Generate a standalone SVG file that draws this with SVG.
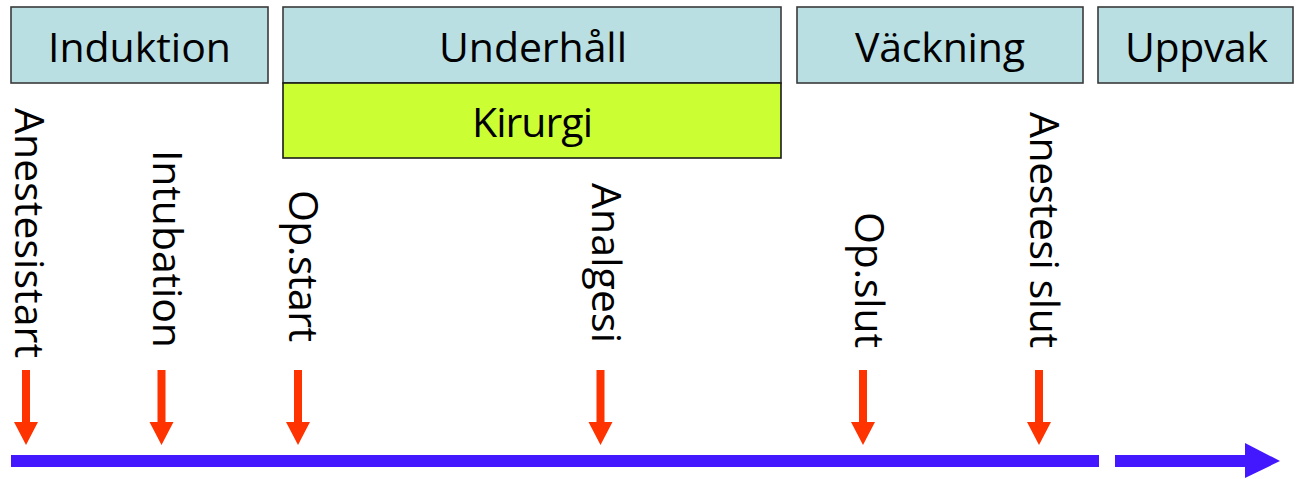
<svg xmlns="http://www.w3.org/2000/svg" xmlns:xlink="http://www.w3.org/1999/xlink" width="1305" height="479" viewBox="0 0 1305 479">
<style>
.phase{fill:#B9DFE3;stroke:#3A3A3A;stroke-width:1.6}
.surg{fill:#CCFF33;stroke:#1A1A1A;stroke-width:1.6}
.lbl{font-family:"Open Sans","Liberation Sans",sans-serif;font-size:41px;fill:#000}
.ctr{text-anchor:middle}
.red{fill:#FF3300}
.blue{fill:#4418FF}
</style>
<defs>
<path id="downArrow" d="M-4,370 H4 V422 H12 L0,445 L-12,422 H-4 Z"/>
</defs>
<g id="induktion">
<rect class="phase" x="11" y="7" width="257" height="76"/>
<text class="lbl ctr" x="139.5" y="62" textLength="183">Induktion</text>
</g>
<g id="underhall">
<rect class="phase" x="283" y="7" width="498" height="76"/>
<text class="lbl ctr" x="533" y="62" textLength="188">Underhåll</text>
</g>
<g id="kirurgi">
<rect class="surg" x="283" y="83" width="498" height="75"/>
<text class="lbl ctr" x="532.5" y="137" textLength="121">Kirurgi</text>
</g>
<g id="vackning">
<rect class="phase" x="797" y="7" width="286" height="76"/>
<text class="lbl ctr" x="940" y="62" textLength="170">Väckning</text>
</g>
<g id="uppvak">
<rect class="phase" x="1098" y="7" width="195" height="76"/>
<text class="lbl ctr" x="1196.5" y="62" textLength="143">Uppvak</text>
</g>
<g id="anestesistart">
<text class="lbl" transform="translate(15,108) rotate(90)" textLength="250">Anestesistart</text>
</g>
<g id="intubation">
<text class="lbl" transform="translate(153,150) rotate(90)" textLength="198">Intubation</text>
</g>
<g id="opstart">
<text class="lbl" transform="translate(289,190) rotate(90)" textLength="152">Op.start</text>
</g>
<g id="analgesi">
<text class="lbl" transform="translate(592,183) rotate(90)" textLength="160">Analgesi</text>
</g>
<g id="opslut">
<text class="lbl" transform="translate(855,212) rotate(90)" textLength="136">Op.slut</text>
</g>
<g id="anestesislut">
<text class="lbl" transform="translate(1030,112) rotate(90)" textLength="236">Anestesi slut</text>
</g>
<g id="connectors">
<use xlink:href="#downArrow" class="red" transform="translate(26,0)"/>
<use xlink:href="#downArrow" class="red" transform="translate(161.5,0)"/>
<use xlink:href="#downArrow" class="red" transform="translate(298,0)"/>
<use xlink:href="#downArrow" class="red" transform="translate(600.5,0)"/>
<use xlink:href="#downArrow" class="red" transform="translate(863,0)"/>
<use xlink:href="#downArrow" class="red" transform="translate(1039,0)"/>
<rect class="blue" x="11" y="455" width="1088" height="12"/>
<path class="blue" d="M1115,455 H1245 V443 L1280,461 L1245,478 V467 H1115 Z"/>
</g>
</svg>
